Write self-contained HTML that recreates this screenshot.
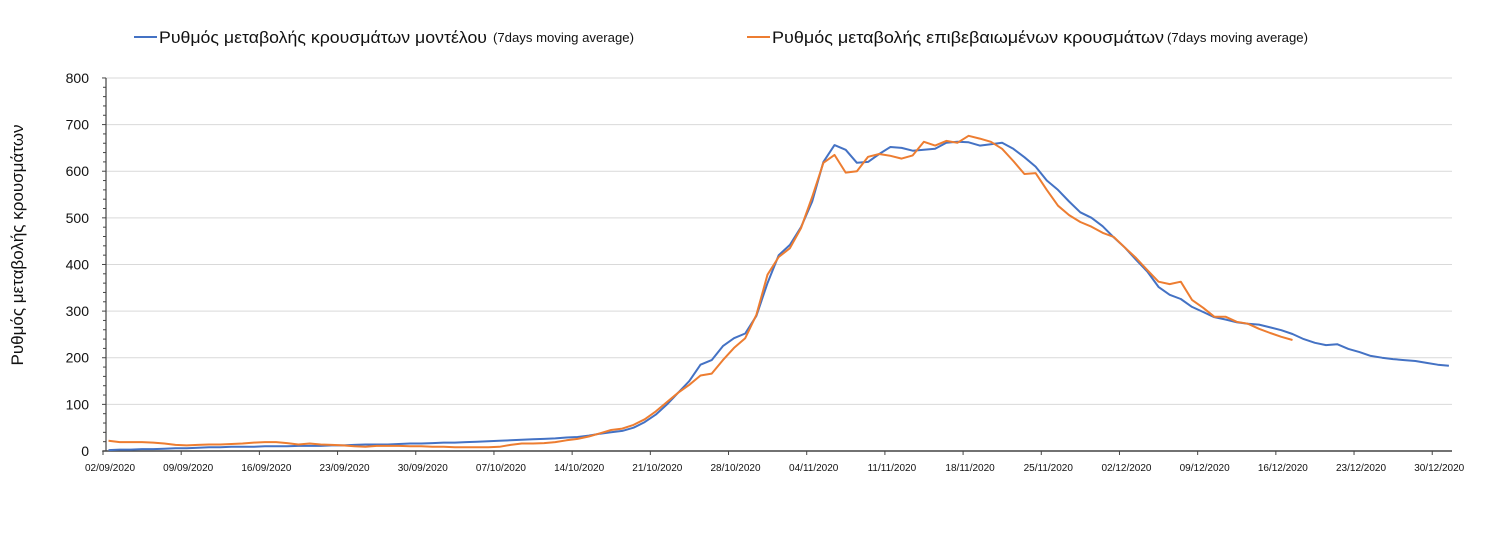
<!DOCTYPE html>
<html><head><meta charset="utf-8">
<style>
html,body{margin:0;padding:0;background:#fff;}
svg{display:block;font-family:"Liberation Sans Narrow","Liberation Sans",sans-serif;}
</style></head>
<body>
<svg id="chart" width="1489" height="538" viewBox="0 0 1489 538" xmlns="http://www.w3.org/2000/svg">
  <g id="legend">
    <g>
      <line x1="134" y1="37" x2="157" y2="37" stroke="#4472c4" stroke-width="2"/>
      <text x="159" y="43" font-size="17" textLength="328" lengthAdjust="spacingAndGlyphs" fill="#111">Ρυθμός μεταβολής κρουσμάτων μοντέλου</text>
      <text x="493" y="42" font-size="12.5" textLength="141" lengthAdjust="spacingAndGlyphs" fill="#111">(7days moving average)</text>
    </g>
    <g>
      <line x1="747" y1="37" x2="770" y2="37" stroke="#ed7d31" stroke-width="2"/>
      <text x="772" y="43" font-size="17" textLength="392" lengthAdjust="spacingAndGlyphs" fill="#111">Ρυθμός μεταβολής επιβεβαιωμένων κρουσμάτων</text>
      <text x="1167" y="42" font-size="12.5" textLength="141" lengthAdjust="spacingAndGlyphs" fill="#111">(7days moving average)</text>
    </g>
  </g>
  <text transform="translate(23,245) rotate(-90)" text-anchor="middle" font-size="17" font-family="Liberation Sans, sans-serif" fill="#111">Ρυθμός μεταβολής κρουσμάτων</text>
  <g id="grid"></g>
  <g id="yaxis"></g>
  <g id="xaxis"></g>
  <g id="series"></g>
</svg>
<script>
const yTicks = [0,100,200,300,400,500,600,700,800];
const xTickLabels = ["02/09/2020","09/09/2020","16/09/2020","23/09/2020","30/09/2020","07/10/2020","14/10/2020","21/10/2020","28/10/2020","04/11/2020","11/11/2020","18/11/2020","25/11/2020","02/12/2020","09/12/2020","16/12/2020","23/12/2020","30/12/2020"];
const modelValues = [2,3,3,4,4,5,6,6,7,8,8,9,9,9,10,10,10,11,11,11,12,12,13,14,14,14,15,16,16,17,18,18,19,20,21,22,23,24,25,26,27,29,30,33,37,40,43,50,62,78,100,125,150,185,195,225,242,252,290,360,420,442,480,535,620,656,646,618,620,637,652,650,644,646,648,661,663,662,655,658,661,648,630,610,580,560,535,512,500,482,458,436,410,385,352,335,326,309,298,287,282,276,273,271,265,259,251,240,232,227,229,219,212,204,200,197,195,193,189,185,183];
const confirmedValues = [22,19,19,19,18,16,13,12,13,14,14,15,16,18,19,19,17,14,16,14,13,12,10,9,11,11,11,10,10,9,9,8,8,8,8,9,13,16,16,17,19,23,26,31,38,45,48,56,68,85,105,125,142,162,166,195,221,242,292,378,416,435,478,545,618,635,597,600,631,637,633,627,634,663,655,665,661,676,670,663,648,622,594,596,560,526,506,491,481,468,459,436,414,388,363,358,363,324,307,288,288,277,273,262,253,245,238];

const NS="http://www.w3.org/2000/svg";
const X0=108.5, DX=11.17, Y0=451, YS=0.4663;
const xs = d => X0 + d*DX;
const ys = v => Y0 - v*YS;
function mk(tag, attrs, parent){const e=document.createElementNS(NS,tag);for(const k in attrs)e.setAttribute(k,attrs[k]);parent.appendChild(e);return e;}
const grid=document.getElementById('grid'), yax=document.getElementById('yaxis'), xax=document.getElementById('xaxis'), ser=document.getElementById('series');

yTicks.forEach(v=>{
  if(v>0){const g=mk('line',{x1:106,x2:1452,y1:ys(v),y2:ys(v),stroke:'#d9d9d9','stroke-width':1},grid);
  
  }
  const t=mk('text',{x:89,y:ys(v)+5,'text-anchor':'end','font-size':14,fill:'#111'},yax);
  t.textContent=v;
  
  
});
for(let v=0; v<=800; v+=20){
  const major = v%100===0;
  mk('line',{x1:major?102:103,x2:106,y1:ys(v),y2:ys(v),stroke:'#444','stroke-width':1},yax);
}
const ya=mk('line',{x1:106,x2:106,y1:ys(800),y2:Y0,stroke:'#444','stroke-width':1.2},yax);


const xa=mk('line',{x1:103,x2:1452,y1:Y0,y2:Y0,stroke:'#444','stroke-width':1.5},xax);


xTickLabels.forEach((lab,i)=>{
  const tx = xs(i*7) - 5.5;
  mk('line',{x1:tx,x2:tx,y1:Y0,y2:Y0+4,stroke:'#444','stroke-width':1},xax);
  const t=mk('text',{x:tx+7,y:471,'text-anchor':'middle','font-size':10,fill:'#111'},xax);
  t.textContent=lab;
  
  
});
function line(vals,color,name){
  const d=vals.map((v,i)=>(i?'L':'M')+xs(i).toFixed(1)+' '+ys(v).toFixed(1)).join(' ');
  const p=mk('path',{d:d,fill:'none',stroke:color,'stroke-width':2,'stroke-linejoin':'round'},ser);
  
  
}
line(modelValues,'#4472c4','model-series-line');
line(confirmedValues,'#ed7d31','confirmed-series-line');
</script>
</body></html>
